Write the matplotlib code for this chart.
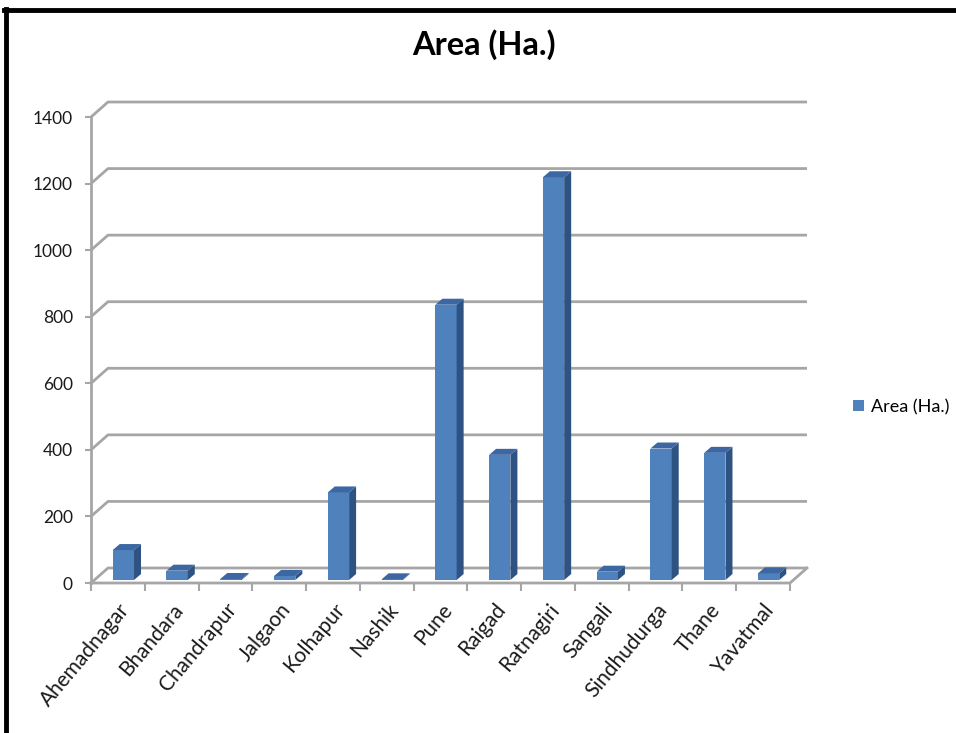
import matplotlib
matplotlib.use("Agg")
import matplotlib.pyplot as plt
from matplotlib.patches import Polygon
from matplotlib.lines import Line2D

# ---- data ----
districts = ["Ahemadnagar", "Bhandara", "Chandrapur", "Jalgaon", "Kolhapur", "Nashik",
             "Pune", "Raigad", "Ratnagiri", "Sangali", "Sindhudurga", "Thane", "Yavatmal"]
area_ha = [90, 28, 3, 12, 263, 2, 827, 376, 1210, 25, 395, 382, 20]
yticks = [0, 200, 400, 600, 800, 1000, 1200, 1400]
title = "Area (Ha.)"
series_name = "Area (Ha.)"

plt.rcParams['font.family'] = ['Lato', 'DejaVu Sans']

W, H = 956, 733
fig = plt.figure(figsize=(W / 100, H / 100), dpi=100)
fig.patch.set_facecolor("white")

# front plane of the 3D box in pixels
x0p, x1p, y0p, y1p = 91, 790, 583, 117
ax = fig.add_axes([x0p / W, 1 - y0p / H, (x1p - x0p) / W, (y0p - y1p) / H])
n = len(districts)
ax.set_xlim(0, n)
ax.set_ylim(0, 1400)
ax.patch.set_alpha(0)

pxx = (x1p - x0p) / n
pxy = (y0p - y1p) / 1400
dx = 17 / pxx      # depth offset of back wall
dy = 15 / pxy
grid_c = "#A6A6A6"

# gridlines: diagonal on left wall + back wall line
for v in yticks:
    ax.plot([0, dx, n + dx], [v, v + dy, v + dy], color=grid_c, lw=2,
            clip_on=False, zorder=1, solid_capstyle="butt")
# floor front and right edges
ax.plot([0, n, n + dx], [0, 0, dy], color=grid_c, lw=2, clip_on=False, zorder=1)

for s in ["top", "right", "bottom"]:
    ax.spines[s].set_visible(False)
ax.spines["left"].set_color(grid_c)
ax.spines["left"].set_linewidth(2)

ax.set_yticks(yticks)
ax.set_yticklabels([str(v) for v in yticks])
ax.tick_params(axis="y", length=4, width=1.5, color=grid_c, pad=9, labelsize=12.5,
               labelcolor="#1a1a1a")
ax.set_xticks(range(n + 1))
ax.set_xticklabels([""] * (n + 1))
ax.tick_params(axis="x", which="major", length=6, width=1.5, color=grid_c)
ax.set_xticks([i + 0.5 for i in range(n)], minor=True)
ax.set_xticklabels(districts, minor=True, rotation=50, ha="right",
                   rotation_mode="anchor", fontsize=15, color="#1a1a1a")
ax.tick_params(axis="x", which="minor", length=0, pad=12)

# bars (pseudo-3D)
front_c = "#4F81BD"
side_c = "#2E5282"
top_c = "#3C67A2"
b0 = 0.2 * dy
left_off = 0.404
bw = 0.396
bdx = 7 / pxx
bdy = 6 / pxy
xs = [i + left_off for i in range(n)]
ax.bar(xs, area_ha, width=bw, bottom=b0, align="edge", color=front_c,
       edgecolor="none", zorder=3, label=series_name)
for x, v in zip(xs, area_ha):
    xr = x + bw
    ax.add_patch(Polygon([(xr, b0), (xr + bdx, b0 + bdy), (xr + bdx, b0 + v + bdy), (xr, b0 + v)],
                         closed=True, facecolor=side_c, edgecolor="none", zorder=3, clip_on=False))
    ax.add_patch(Polygon([(x, b0 + v), (xr, b0 + v), (xr + bdx, b0 + v + bdy), (x + bdx, b0 + v + bdy)],
                         closed=True, facecolor=top_c, edgecolor="none", zorder=3, clip_on=False))

# title
fig.text(484 / W, 1 - 45 / H, title, ha="center", va="center", fontsize=23.5,
         fontweight="bold", color="black")

# legend
fig.legend(loc="center left", bbox_to_anchor=(846 / W, 1 - 407 / H), frameon=False,
           handlelength=0.6, handleheight=0.6, handletextpad=0.4, fontsize=13,
           borderaxespad=0)

# outer frame (top and left edges visible)
fig.add_artist(Line2D([4 / W, 1], [1 - 10 / H, 1 - 10 / H], transform=fig.transFigure,
                      color="black", lw=3.5))
fig.add_artist(Line2D([6 / W, 6 / W], [0, 1 - 8.5 / H], transform=fig.transFigure,
                      color="black", lw=3.5))

fig.savefig("out.png", dpi=100)
